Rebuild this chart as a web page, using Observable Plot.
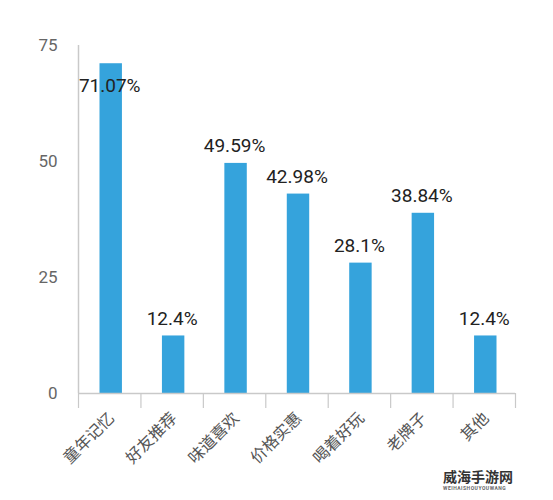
<!DOCTYPE html>
<html>
<head>
<meta charset="utf-8">
<script src="https://cdn.jsdelivr.net/npm/d3@7"></script>
<script src="https://cdn.jsdelivr.net/npm/@observablehq/plot@0.6"></script>
<style>
  body { margin: 0; background: #fff; }
  #wrap { position: relative; width: 553px; height: 500px; }
  #wm { position: absolute; left: 440px; top: 468px; font-family: "Noto Sans CJK SC", sans-serif; font-weight: bold; font-size: 14px; color: #333; background: #fff; padding: 0 3px; }
  #wm .t { display: block; line-height: 17px; }
  #wm small { display: block; font-size: 5px; line-height: 7px; color: #666; letter-spacing: 0.5px; font-family: Roboto, sans-serif; }
</style>
</head>
<body>
<div id="wrap"></div>
<script>
const categories = ["童年记忆", "好友推荐", "味道喜欢", "价格实惠", "喝着好玩", "老牌子", "其他"];
const values = [71.07, 12.4, 49.59, 42.98, 28.1, 38.84, 12.4];
const valueLabels = ["71.07%", "12.4%", "49.59%", "42.98%", "28.1%", "38.84%", "12.4%"];
const yTicks = [0, 25, 50, 75];

const data = categories.map((c, i) => ({i, c, v: values[i], label: valueLabels[i]}));
const font = "Roboto, 'Noto Sans CJK SC', sans-serif";
const axisGray = "#c9c9c9";

const chart = Plot.plot({
  width: 553,
  height: 500,
  marginLeft: 78,
  marginRight: 38,
  marginTop: 45,
  marginBottom: 107,
  style: {fontFamily: font, background: "#fff"},
  x: {domain: [0, categories.length], axis: null},
  y: {domain: [0, 75], axis: null},
  marks: [
    Plot.rectY(data, {x1: d => d.i, x2: d => d.i + 1, y: "v", fill: "#35a3dc", insetLeft: 21.5, insetRight: 18.5}),
    Plot.ruleY([0], {stroke: axisGray, strokeWidth: 1.5}),
    Plot.ruleX([0], {y1: 0, y2: 75, stroke: axisGray, strokeWidth: 1.5}),
    Plot.axisX({ticks: d3.range(categories.length + 1), tickSize: 15, tickFormat: () => "", stroke: axisGray, strokeWidth: 1.2, label: null}),
    Plot.axisY({ticks: yTicks, tickSize: 0, tickPadding: 21, fontSize: 17, fill: "#666", tickFormat: d => d, label: null}),
    Plot.text(data.filter(d => d.i !== 0), {x: d => d.i + 0.5, y: "v", text: "label", dy: -17, fontSize: 19, fill: "#222"}),
    Plot.text(data.filter(d => d.i === 0), {x: d => d.i + 0.5, y: "v", text: "label", dy: 22, fontSize: 19, fill: "#222"}),
    Plot.text(data, {x: d => d.i + 0.5, y: 0, text: "c", rotate: -45, textAnchor: "end", lineAnchor: "middle", dx: 2, dy: 22, fontSize: 16, fill: "#555"})
  ]
});
document.getElementById("wrap").appendChild(chart);
const wm = document.createElement("div");
wm.id = "wm";
wm.innerHTML = "<span class='t'>威海手游网</span><small>WEIHAISHOUYOUWANG</small>";
document.getElementById("wrap").appendChild(wm);
</script>
</body>
</html>
